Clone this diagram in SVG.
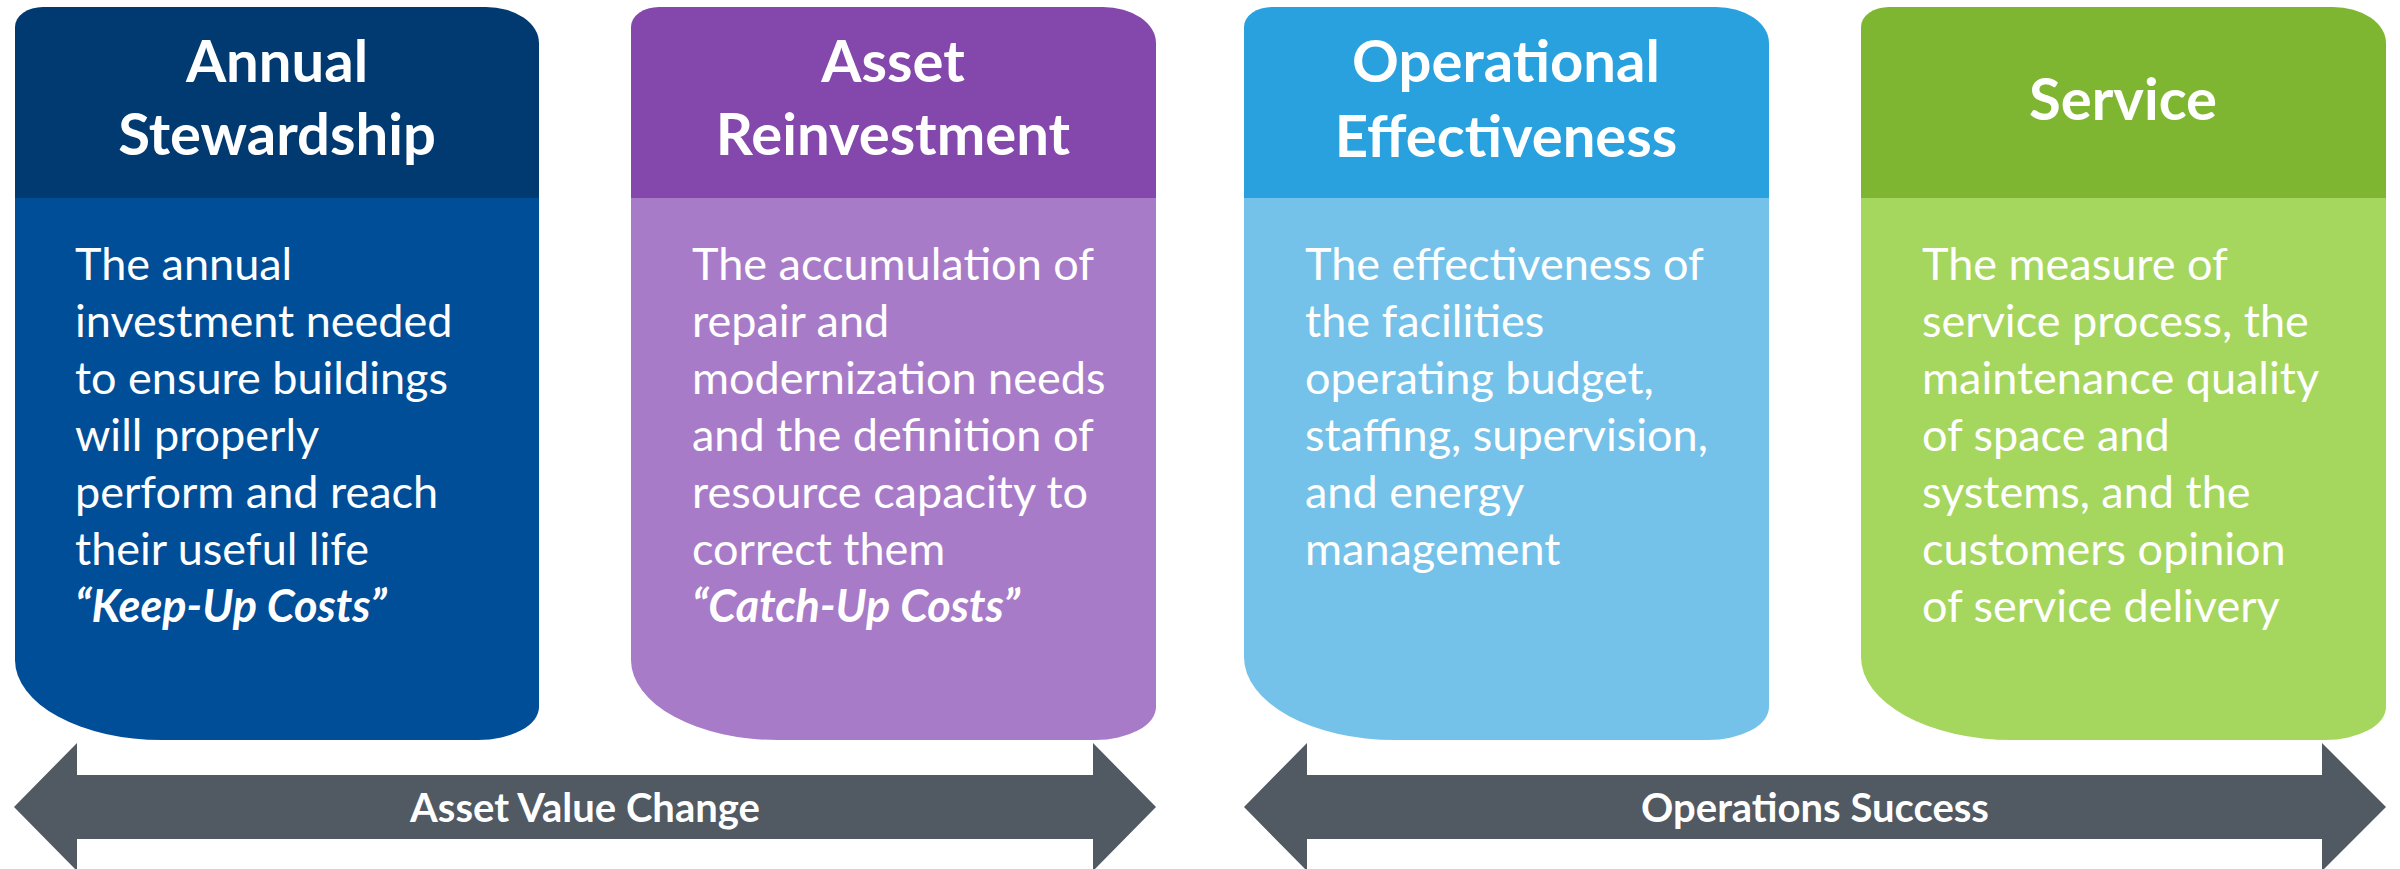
<svg xmlns="http://www.w3.org/2000/svg" width="2400" height="869" viewBox="0 0 2400 869">
<style>
.title{font-family:Lato,"Open Sans","Liberation Sans",sans-serif;font-weight:bold;font-size:58px;fill:#fff;text-anchor:middle}
.body{font-family:Lato,"Open Sans","Liberation Sans",sans-serif;font-size:45px;fill:#fff}
.em{font-weight:bold;font-style:italic}
.lbl{font-family:Lato,"Open Sans","Liberation Sans",sans-serif;font-weight:bold;font-size:40px;fill:#fff;text-anchor:middle}
.arrow{fill:#515963}
</style>
<rect width="2400" height="869" fill="#fff"/>
<g id="connectors">
<path class="arrow" d="M14,807 L77,743 V775 H1093 V743 L1156,807 L1093,871 V839 H77 V871 Z"/>
<text class="lbl" x="585" y="822">Asset Value Change</text>
<path class="arrow" d="M1244,807 L1307,743 V775 H2322 V743 L2386,807 L2322,871 V839 H1307 V871 Z"/>
<text class="lbl" x="1815" y="822">Operations Success</text>
</g>
<g id="annual-stewardship">
<path fill="#003a70" d="M15,198 V27 A28 20 0 0 1 43,7 H486 A53 36 0 0 1 539,43 V198 Z"/>
<path fill="#004d98" d="M15,198 H539 V707 A61 33 0 0 1 478,740 H162 A147 80 0 0 1 15,660 Z"/>
<text class="title" x="277" y="82">Annual</text>
<text class="title" x="277" y="155">Stewardship</text>
<text class="body" x="75" y="280">The annual</text>
<text class="body" x="75" y="337">investment needed</text>
<text class="body" x="75" y="394">to ensure buildings</text>
<text class="body" x="75" y="451">will properly</text>
<text class="body" x="75" y="508">perform and reach</text>
<text class="body" x="75" y="565">their useful life</text>
<text class="body em" x="75" y="622">“Keep-Up Costs”</text>
</g>
<g id="asset-reinvestment">
<path fill="#8447ab" d="M631,198 V27 A28 20 0 0 1 659,7 H1103 A53 36 0 0 1 1156,43 V198 Z"/>
<path fill="#a87bc8" d="M631,198 H1156 V707 A61 33 0 0 1 1095,740 H778 A147 80 0 0 1 631,660 Z"/>
<text class="title" x="893" y="82">Asset</text>
<text class="title" x="893" y="155">Reinvestment</text>
<text class="body" x="692" y="280">The accumulation of</text>
<text class="body" x="692" y="337">repair and</text>
<text class="body" x="692" y="394">modernization needs</text>
<text class="body" x="692" y="451">and the definition of</text>
<text class="body" x="692" y="508">resource capacity to</text>
<text class="body" x="692" y="565">correct them</text>
<text class="body em" x="692" y="622">“Catch-Up Costs”</text>
</g>
<g id="operational-effectiveness">
<path fill="#28a1de" d="M1244,198 V27 A28 20 0 0 1 1272,7 H1716 A53 36 0 0 1 1769,43 V198 Z"/>
<path fill="#74c2e9" d="M1244,198 H1769 V707 A61 33 0 0 1 1708,740 H1395 A151 83 0 0 1 1244,657 Z"/>
<text class="title" x="1506" y="82">Operational</text>
<text class="title" x="1506" y="157">Effectiveness</text>
<text class="body" x="1305" y="280">The effectiveness of</text>
<text class="body" x="1305" y="337">the facilities</text>
<text class="body" x="1305" y="394">operating budget,</text>
<text class="body" x="1305" y="451">staffing, supervision,</text>
<text class="body" x="1305" y="508">and energy</text>
<text class="body" x="1305" y="565">management</text>
</g>
<g id="service">
<path fill="#7fb631" d="M1861,198 V27 A28 20 0 0 1 1889,7 H2333 A53 36 0 0 1 2386,43 V198 Z"/>
<path fill="#a5d65e" d="M1861,198 H2386 V707 A61 33 0 0 1 2325,740 H2012 A151 83 0 0 1 1861,657 Z"/>
<text class="title" x="2123" y="120">Service</text>
<text class="body" x="1922" y="280">The measure of</text>
<text class="body" x="1922" y="337">service process, the</text>
<text class="body" x="1922" y="394">maintenance quality</text>
<text class="body" x="1922" y="451">of space and</text>
<text class="body" x="1922" y="508">systems, and the</text>
<text class="body" x="1922" y="565">customers opinion</text>
<text class="body" x="1922" y="622">of service delivery</text>
</g>
</svg>
